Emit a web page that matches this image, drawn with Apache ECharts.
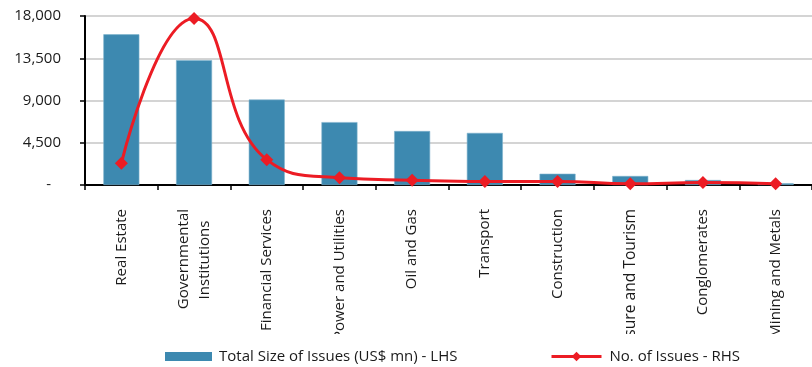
<!DOCTYPE html>
<html>
<head>
<meta charset="utf-8">
<script src="https://cdn.jsdelivr.net/npm/echarts@6/dist/echarts.min.js"></script>
<style>
  html, body { margin: 0; padding: 0; background: #fff; }
  #chart { width: 812px; height: 367px; }
</style>
</head>
<body>
<div id="chart"></div>
<script>
// Sectors (x axis)
var sectors = [
  'Real Estate',
  'Governmental\nInstitutions\u00A0\u00A0\u00A0',
  'Financial Services',
  'Power and Utilities',
  'Oil and Gas',
  'Transport',
  'Construction',
  'Leisure and Tourism',
  'Conglomerates',
  'Mining and Metals'
];

// Total size of issues, US$ mn (left axis)
var issueSize = [16050, 13300, 9100, 6700, 5750, 5550, 1200, 960, 530, 180];

// Number of issues (right axis)
var issueCount = [18, 138, 21, 6, 4, 3, 3, 1, 2, 1];

// Left axis scale and tick labels
var lhsMin = 0, lhsMax = 18000, lhsStep = 4500;
var lhsTickLabels = ['-', '4,500', '9,000', '13,500', '18,000'];

// Right axis scale (not labelled)
var rhsMin = 0, rhsMax = 140, rhsStep = 35;

var seriesNames = ['Total Size of Issues (US$ mn) - LHS', 'No. of Issues - RHS'];

var FONT = 'Open Sans';
var TEXT = '#1a1a1a';
var BLUE = '#3d89b0';
var RED = '#ec1c24';

// the long tourism label runs a little wider than the others
var categoryData = sectors.map(function (name) {
  return name === 'Leisure and Tourism'
    ? { value: name, textStyle: { fontSize: 15.6 } }
    : name;
});

var chart = echarts.init(document.getElementById('chart'), null, { renderer: 'canvas' });

chart.setOption({
  animation: false,
  backgroundColor: '#ffffff',
  textStyle: { fontFamily: FONT, color: TEXT },
  grid: { left: 85, top: 16, height: 169, width: 736, containLabel: false },
  legend: [
    {
      data: [{ name: seriesNames[0], icon: 'rect' }],
      left: 160, top: 344,
      itemWidth: 47, itemHeight: 9, itemGap: 11,
      itemStyle: { borderWidth: 0 },
      textStyle: { fontFamily: FONT, fontSize: 15, color: TEXT, padding: [0, 0, 0, 2] },
      z: 10
    },
    {
      data: [seriesNames[1]],
      left: 545, top: 344,
      itemWidth: 50, itemHeight: 12,
      lineStyle: { width: 3 },
      textStyle: { fontFamily: FONT, fontSize: 15, color: TEXT, padding: [0, 0, 0, 3] },
      z: 10
    }
  ],
  xAxis: {
    type: 'category',
    data: categoryData,
    boundaryGap: true,
    axisLine: { lineStyle: { color: '#000', width: 2 } },
    axisTick: { show: true, alignWithLabel: false, length: 5, lineStyle: { color: '#000', width: 1.5 } },
    axisLabel: {
      interval: 0,
      rotate: 90,
      margin: 24,
      fontFamily: FONT,
      fontSize: 15,
      lineHeight: 21,
      color: TEXT
    },
    splitLine: { show: false }
  },
  yAxis: [
    {
      type: 'value',
      min: lhsMin, max: lhsMax, interval: lhsStep,
      axisLine: { show: true, lineStyle: { color: '#000', width: 2 } },
      axisTick: { show: true, length: 5, lineStyle: { color: '#000', width: 1.5 } },
      axisLabel: {
        margin: 24,
        fontFamily: FONT,
        fontSize: 15,
        color: TEXT,
        formatter: function (v) {
          var i = Math.round((v - lhsMin) / lhsStep);
          var s = lhsTickLabels[i];
          return i === 0 ? s + '\u2002\u2009' : s;
        }
      },
      splitLine: { show: true, lineStyle: { color: '#c6c6c6', width: 1.5 } }
    },
    {
      type: 'value',
      min: rhsMin, max: rhsMax, interval: rhsStep,
      show: true,
      axisLine: { show: false },
      axisTick: { show: false },
      axisLabel: { show: false },
      splitLine: { show: false }
    }
  ],
  series: [
    {
      name: seriesNames[0],
      type: 'bar',
      yAxisIndex: 0,
      data: issueSize,
      barWidth: 36,
      itemStyle: { color: BLUE, borderColor: '#7db1cd', borderWidth: 0.6 },
      z: 2
    },
    {
      name: seriesNames[1],
      type: 'line',
      yAxisIndex: 1,
      data: issueCount,
      smooth: 0.5,
      symbol: 'diamond',
      symbolSize: 13,
      lineStyle: { color: RED, width: 3 },
      itemStyle: { color: RED },
      z: 3
    }
  ],
  graphic: [
    {
      // the category label band ends here; the legend sits on top of this strip
      type: 'rect',
      left: 0, top: 334,
      shape: { width: 812, height: 33 },
      style: { fill: '#ffffff' },
      z: 5
    }
  ]
});
</script>
</body>
</html>
